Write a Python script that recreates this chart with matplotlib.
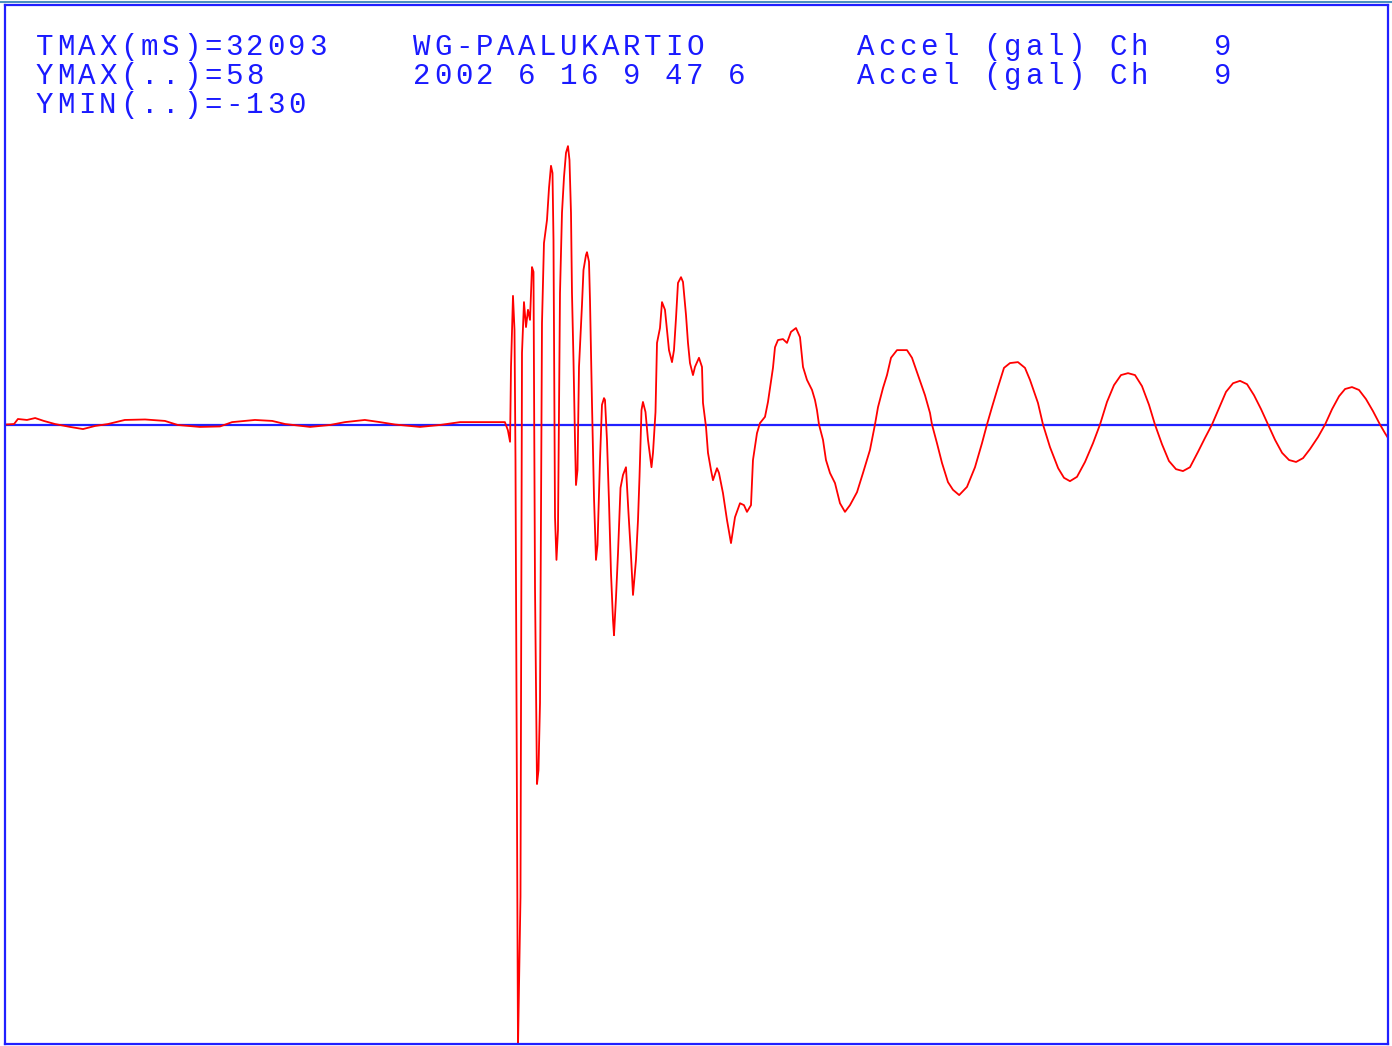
import numpy as np
import matplotlib
matplotlib.use("Agg")
import matplotlib.pyplot as plt

# Station / event header
station = "WG-PAALUKARTIO"
event_date = "2002 6 16 9 47 6"
channel_label = "Accel (gal) Ch   9"
tmax_ms = 32093

# Acceleration record: time (s) and acceleration (gal)
time_s = [
    0.000, 0.21, 0.30, 0.51, 0.70, 0.90, 1.16, 1.51, 1.81, 2.09, 2.39, 2.78,
    3.25, 3.71, 4.01, 4.52, 4.99, 5.27, 5.80, 6.20, 6.50, 7.08, 7.54, 7.89,
    8.35, 8.70, 9.05, 9.63, 10.09, 10.56, 11.60, 11.67, 11.72,
    11.742, 11.788, 11.823, 11.846, 11.904, 11.962, 11.997, 12.043, 12.090,
    12.136, 12.183, 12.229, 12.264, 12.299, 12.345, 12.380, 12.415, 12.438,
    12.461, 12.507, 12.577, 12.624, 12.670, 12.705, 12.728, 12.763, 12.797,
    12.832, 12.879, 12.925, 12.972, 13.018, 13.064, 13.099, 13.134, 13.157,
    13.192, 13.227, 13.250, 13.285, 13.320, 13.389, 13.424, 13.482, 13.505,
    13.552, 13.575, 13.621, 13.668, 13.714, 13.749, 13.807, 13.853, 13.900,
    13.923, 13.969, 14.016, 14.062, 14.109, 14.132, 14.178, 14.225, 14.283,
    14.341, 14.410, 14.468, 14.526, 14.573, 14.642, 14.689, 14.724, 14.770,
    14.804, 14.863, 14.921, 15.002, 15.037, 15.095, 15.130, 15.199, 15.246,
    15.315, 15.362, 15.408, 15.478, 15.524, 15.571, 15.617, 15.687, 15.733,
    15.803, 15.849, 15.895, 15.965, 16.011, 16.104, 16.174, 16.197, 16.267,
    16.313, 16.383, 16.429, 16.522, 16.568, 16.661, 16.754, 16.847, 16.940,
    17.056, 17.148, 17.218, 17.311, 17.357, 17.450, 17.520, 17.636, 17.705,
    17.821, 17.868, 17.937, 18.053, 18.146, 18.239, 18.355, 18.448, 18.518,
    18.610, 18.727, 18.796, 18.842, 18.889, 18.982, 19.051, 19.144, 19.260,
    19.376, 19.492, 19.608, 19.771, 19.910, 20.072, 20.188, 20.258, 20.374,
    20.467, 20.560, 20.699, 20.931, 21.047, 21.186, 21.349, 21.465, 21.511,
    21.627, 21.743, 21.882, 21.998, 22.142, 22.323, 22.509, 22.671, 22.787,
    22.903, 23.043, 23.182, 23.321, 23.506, 23.669, 23.785, 23.970, 24.087,
    24.249, 24.439, 24.574, 24.713, 24.876, 25.062, 25.247, 25.410, 25.572,
    25.734, 25.897, 26.060, 26.222, 26.384, 26.547, 26.685, 26.848, 27.010,
    27.173, 27.335, 27.498, 27.684, 27.846, 28.009, 28.172, 28.334, 28.497,
    28.659, 28.822, 28.984, 29.147, 29.309, 29.472, 29.635, 29.797, 29.960,
    30.122, 30.284, 30.470, 30.633, 30.795, 30.958, 31.097, 31.257, 31.420,
    31.582, 31.744, 31.907, 32.023, 32.093,
]
accel_gal = [
    0.0, 0.1, 1.15, 0.95, 1.35, 0.75, 0.1, -0.5, -0.95, -0.3, 0.1, 0.95,
    1.05, 0.75, -0.1, -0.5, -0.4, 0.5, 0.95, 0.75, 0.1, -0.5, -0.1, 0.5,
    0.95, 0.5, 0.0, -0.5, -0.1, 0.5, 0.5, -1.2, -3.6,
    12.0, 26.8, 19.7, -7.2, -130.0, -98.4, 14.9, 25.5, 20.3,
    23.9, 21.8, 32.8, 31.8, -34.1, -74.9, -72.0, -58.0, -16.8,
    21.1, 37.8, 42.6, 49.3, 53.9, 52.4, 38.4, -19.3, -28.2,
    -22.0, 27.4, 44.1, 51.6, 56.6, 58.0, 55.1, 44.1, 27.4,
    13.4, -3.2, -12.6, -9.5, 12.0, 24.9, 32.2, 35.3, 35.9,
    33.9, 25.9, 4.5, -15.3, -28.2, -25.1, -7.4, 4.1, 5.5,
    5.1, -3.2, -16.1, -30.9, -40.7, -43.9, -36.1, -26.8, -13.2,
    -10.5, -8.9, -18.4, -27.2, -35.5, -28.2, -19.9, -10.9, 3.0,
    4.7, 2.6, -3.2, -8.9, -5.9, 2.6, 17.0, 20.1, 25.5,
    23.9, 19.7, 15.5, 13.0, 15.5, 22.2, 29.5, 30.7, 29.7,
    22.8, 17.0, 12.8, 10.3, 12.0, 13.9, 12.0, 4.5, -0.5,
    -5.9, -9.5, -11.6, -9.1, -10.1, -14.3, -19.9, -24.7, -19.3,
    -16.4, -16.8, -18.2, -16.8, -7.4, -1.8, 0.3, 1.6, 4.7,
    11.8, 16.1, 17.6, 17.8, 17.0, 19.3, 20.1, 18.2, 12.0,
    9.3, 7.2, 5.1, 3.0, 0.0, -3.2, -7.4, -10.1, -12.2,
    -16.4, -18.2, -16.8, -14.1, -10.1, -5.3, 0.0, 3.6, 7.6,
    10.3, 13.9, 15.5, 15.5, 13.9, 10.3, 6.1, 2.4, 0.0,
    -3.9, -8.0, -12.0, -13.6, -14.7, -13.0, -8.9, -3.9, 0.0,
    3.6, 7.8, 11.8, 12.8, 13.0, 11.8, 9.3, 4.5, 0.0,
    -4.7, -9.1, -11.1, -11.8, -10.9, -7.8, -3.9, 0.0, 4.7,
    8.2, 10.3, 10.7, 10.3, 8.0, 4.1, 0.0, -4.1, -7.6,
    -9.3, -9.7, -8.9, -5.7, -2.8, 0.0, 3.4, 6.8, 8.6,
    9.1, 8.4, 6.1, 3.2, 0.0, -3.2, -5.9, -7.4, -7.8,
    -7.0, -5.1, -2.6, 0.0, 3.2, 5.9, 7.4, 7.8, 7.2,
    5.3, 2.8, 0.0, -1.8, -2.8,
]

ymax = max(accel_gal)
ymin = min(accel_gal)

W, H = 1392, 1046
fig = plt.figure(figsize=(W / 100, H / 100), dpi=100)
fig.patch.set_facecolor("white")

# plot area in pixel units
left, right, top, bottom = 5, 1388, 5, 1044
ax = fig.add_axes([left / W, (H - bottom) / H, (right - left) / W, (bottom - top) / H])
ax.set_xlim(0, tmax_ms / 1000)
ax.set_ylim(-129.06, 87.4)
ax.set_xticks([])
ax.set_yticks([])
for s in ax.spines.values():
    s.set_color("#2020ff")
    s.set_linewidth(1.6)

ax.axhline(0, color="#2020ff", lw=1.6, zorder=1)
ax.plot(time_s, accel_gal, color="#ff0000", lw=1.3, zorder=2, clip_on=True)

# thin band along the top edge
fig.add_artist(plt.Line2D([0, 1], [1 - 1.5 / H, 1 - 1.5 / H], color="#4a90c0", lw=1.5))

blue = "#1a1aff"
font = dict(family="Liberation Mono", size=21, color=blue, va="baseline", ha="left")
pitch = 21  # character cell width, px


def put(x, y, s):
    # fixed character grid, like a plotter terminal
    for i, ch in enumerate(s):
        if ch != " ":
            fig.text((x + i * pitch) / W, 1 - y / H, ch, **font)


put(36, 55, "TMAX(mS)=%d" % tmax_ms)
put(36, 84, "YMAX(..)=%d" % round(ymax))
put(36, 113, "YMIN(..)=%d" % round(ymin))
put(413, 55, station)
put(413, 84, event_date)
put(857, 55, channel_label)
put(857, 84, channel_label)

fig.savefig("out.png", dpi=100, facecolor="white")
